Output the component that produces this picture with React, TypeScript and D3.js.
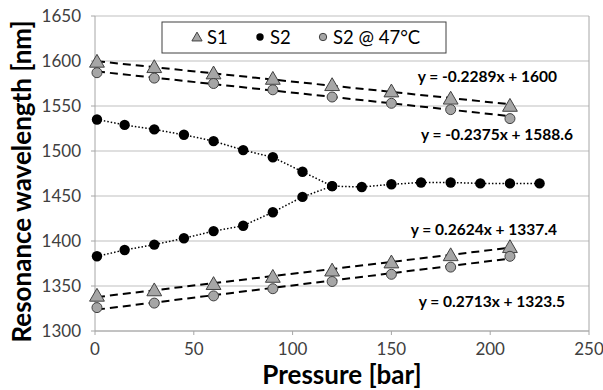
import React from 'react';
import * as d3 from 'd3';

// pressures [bar]
const pFit = [1, 30, 60, 90, 120, 150, 180, 210];
const pS2 = [1, 15, 30, 45, 60, 75, 90, 105, 120, 135, 150, 165, 180, 195, 210, 225];
const pS2Low = [1, 15, 30, 45, 60, 75, 90, 105, 120];

// resonance wavelength [nm]
const s1High = [1599, 1593, 1586, 1580, 1573, 1566, 1558, 1550];
const s1Low = [1339, 1345, 1352, 1360, 1367, 1376, 1384, 1393];
const s2hotHigh = [1587, 1581, 1575, 1568, 1560, 1553, 1546, 1536];
const s2hotLow = [1326, 1331, 1339, 1347, 1355, 1363, 1371, 1383];
const s2High = [1535, 1529, 1524, 1518, 1511, 1501, 1493, 1477, 1461, 1460, 1463, 1465, 1465, 1464, 1464, 1464];
const s2Low = [1383, 1390, 1396, 1403, 1411, 1417, 1432, 1449, 1461];

// linear fits [slope, intercept]
const fits = [
  { m: -0.2289, b: 1600, label: 'y = -0.2289x + 1600' },
  { m: -0.2375, b: 1588.6, label: 'y = -0.2375x + 1588.6' },
  { m: 0.2624, b: 1337.4, label: 'y = 0.2624x + 1337.4' },
  { m: 0.2713, b: 1323.5, label: 'y = 0.2713x + 1323.5' },
];
const fitLabelPos = [
  { x: 557, y: 82 },
  { x: 573, y: 140 },
  { x: 557, y: 235 },
  { x: 565, y: 307 },
];

const xTicks = [0, 50, 100, 150, 200, 250];
const yTicks = [1300, 1350, 1400, 1450, 1500, 1550, 1600, 1650];

const W = 603;
const H = 390;
const left = 95;
const right = 589;
const top = 16;
const bottom = 331;

const font = 'Lato, "Open Sans", sans-serif';
const grey = '#a6a6a6';
const edge = '#404040';

const x = d3.scaleLinear().domain([0, 250]).range([left, right]);
const y = d3.scaleLinear().domain([1300, 1650]).range([bottom, top]);

const tri = d3.symbol().type(d3.symbolTriangle);

export default function App() {
  const dotted = d3.line<[number, number]>().x(d => x(d[0])).y(d => y(d[1]));
  const hi = pS2.map((p, i) => [p, s2High[i]] as [number, number]);
  const lo = pS2Low.map((p, i) => [p, s2Low[i]] as [number, number]);
  const fx = d3.extent(pFit) as [number, number];

  const triangles = (vals: number[], size: number) =>
    vals.map((v, i) => (
      <path key={i} d={tri.size(size)() || ''} transform={`translate(${x(pFit[i])},${y(v) + 1})`}
        fill={grey} stroke={edge} strokeWidth={1} />
    ));
  const circles = (vals: number[]) =>
    vals.map((v, i) => (
      <circle key={i} cx={x(pFit[i])} cy={y(v)} r={5} fill={grey} stroke={edge} strokeWidth={1} />
    ));

  return (
    <svg width={W} height={H} style={{ position: 'absolute', left: 0, top: 0 }}>
      <rect width={W} height={H} fill="#fff" />
      {yTicks.map(t => (
        <g key={t}>
          <line x1={left} x2={right} y1={y(t)} y2={y(t)} stroke="#bfbfbf" strokeWidth={1} />
          <line x1={left - 4} x2={left} y1={y(t)} y2={y(t)} stroke={grey} />
          <text x={left - 14} y={y(t)} dy="0.35em" textAnchor="end" fontFamily={font} fontSize={17} fill={edge}>{t}</text>
        </g>
      ))}
      {xTicks.map(t => (
        <g key={t}>
          <line x1={x(t)} x2={x(t)} y1={bottom} y2={bottom + 4} stroke={grey} />
          <text x={x(t)} y={bottom + 24} textAnchor="middle" fontFamily={font} fontSize={17} fill={edge}>{t}</text>
        </g>
      ))}
      <line x1={left} x2={left} y1={top} y2={bottom} stroke={grey} />
      <line x1={left} x2={right} y1={bottom} y2={bottom} stroke={grey} />
      <line x1={right} x2={right} y1={top} y2={bottom} stroke={grey} />

      {fits.map((f, i) => (
        <line key={i} x1={x(fx[0])} x2={x(fx[1])} y1={y(f.m * fx[0] + f.b)} y2={y(f.m * fx[1] + f.b)}
          stroke="#000" strokeWidth={2} strokeDasharray="8 5" />
      ))}
      <path d={dotted(hi) || ''} fill="none" stroke="#000" strokeWidth={1.5} strokeDasharray="1.5 2" />
      <path d={dotted(lo) || ''} fill="none" stroke="#000" strokeWidth={1.5} strokeDasharray="1.5 2" />

      {triangles(s1High, 95)}
      {triangles(s1Low, 95)}
      {circles(s2hotHigh)}
      {circles(s2hotLow)}
      {hi.map((d, i) => <circle key={'h' + i} cx={x(d[0])} cy={y(d[1])} r={5.2} fill="#000" />)}
      {lo.map((d, i) => <circle key={'l' + i} cx={x(d[0])} cy={y(d[1])} r={5.2} fill="#000" />)}

      {fits.map((f, i) => (
        <text key={i} x={fitLabelPos[i].x} y={fitLabelPos[i].y} textAnchor="end" fontFamily={font}
          fontWeight="bold" fontSize={15.5} fill="#000">{f.label}</text>
      ))}

      <g>
        <rect x={162} y={22} width={284} height={31} fill="#fff" stroke={edge} strokeWidth={1} />
        <path d={tri.size(45)() || ''} transform={`translate(197,38)`} fill={grey} stroke={edge} />
        <text x={207} y={44} fontFamily={font} fontSize={18.5} fill="#000">S1</text>
        <circle cx={260} cy={37} r={3.7} fill="#000" />
        <text x={270} y={44} fontFamily={font} fontSize={18.5} fill="#000">S2</text>
        <circle cx={323} cy={37} r={3.7} fill={grey} stroke={edge} />
        <text x={333} y={44} fontFamily={font} fontSize={18.5} fill="#000">S2 @ 47°C</text>
      </g>

      <text transform={`translate(31,${(top + bottom) / 2 + 8}) rotate(-90)`} textAnchor="middle"
        fontFamily={font} fontWeight="bold" fontSize={26} fill="#000">Resonance wavelength [nm]</text>
      <text x={342} y={384} textAnchor="middle" fontFamily={font} fontWeight="bold" fontSize={26} fill="#000">Pressure [bar]</text>
    </svg>
  );
}
